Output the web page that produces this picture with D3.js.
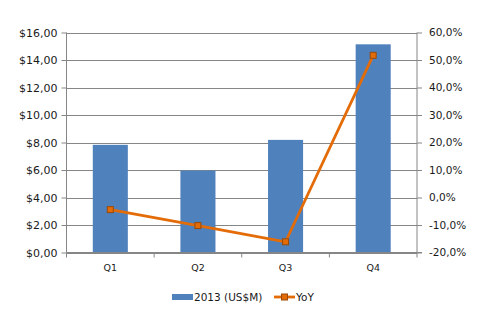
<!DOCTYPE html>
<html>
<head>
<meta charset="utf-8">
<script src="https://cdn.jsdelivr.net/npm/d3@7"></script>
<style>
  html, body { margin: 0; padding: 0; background: #fff; }
  svg text { font-family: "DejaVu Sans", Verdana, sans-serif; fill: #1a1a1a; }
</style>
</head>
<body>
<svg id="chart" width="477" height="324"></svg>
<script>
// Quarterly revenue (US$M) and year-over-year growth (%)
const quarters = ["Q1", "Q2", "Q3", "Q4"];
const revenue = [7.83, 5.96, 8.19, 15.14];
const yoy = [-4.4, -10.2, -16.1, 51.7];
const leftTicks = [0, 2, 4, 6, 8, 10, 12, 14, 16];
const rightTicks = [-20, -10, 0, 10, 20, 30, 40, 50, 60];
const seriesNames = ["2013  (US$M)", "YoY"];

const svg = d3.select("#chart");
const m = { left: 66.5, right: 417, top: 32.5, bottom: 252.5 };
const barColor = "#4F81BD", lineColor = "#E36C09", markerStroke = "#9A4A06";
const gridColor = "#868686";

const x = d3.scaleBand().domain(quarters).range([m.left, m.right]).paddingInner(0.6).paddingOuter(0.3);
const xOuter = d3.scaleBand().domain(quarters).range([m.left, m.right]);
const yL = d3.scaleLinear().domain([0, 16]).range([m.bottom, m.top]);
const yR = d3.scaleLinear().domain([-20, 60]).range([m.bottom, m.top]);

const fmtL = v => "$" + v.toFixed(2).replace(".", ",");
const fmtR = v => v.toFixed(1).replace(".", ",") + "%";

// horizontal gridlines
svg.append("g").selectAll("line").data(leftTicks).join("line")
  .attr("x1", m.left).attr("x2", m.right)
  .attr("y1", d => Math.round(yL(d)) + 0.5).attr("y2", d => Math.round(yL(d)) + 0.5)
  .attr("stroke", gridColor).attr("stroke-width", 1);

// bars
svg.append("g").selectAll("rect").data(revenue).join("rect")
  .attr("x", (d, i) => x(quarters[i]))
  .attr("width", x.bandwidth())
  .attr("y", d => yL(d))
  .attr("height", d => m.bottom - yL(d))
  .attr("fill", barColor);

// left axis
const axL = svg.append("g").attr("transform", `translate(${m.left},0)`)
  .call(d3.axisLeft(yL).tickValues(leftTicks).tickFormat(fmtL).tickSize(5).tickPadding(4));
// right axis
const axR = svg.append("g").attr("transform", `translate(${m.right},0)`)
  .call(d3.axisRight(yR).tickValues(rightTicks).tickFormat(fmtR).tickSize(5).tickPadding(7));
// bottom axis with tick marks between categories
const axB = svg.append("g").attr("transform", `translate(0,${m.bottom})`)
  .call(d3.axisBottom(xOuter).tickSize(0).tickPadding(12));
axB.append("g").selectAll("line")
  .data(quarters.map(q => xOuter(q)).concat([m.right]))
  .join("line")
  .attr("x1", d => d).attr("x2", d => d).attr("y1", 0).attr("y2", 5)
  .attr("stroke", gridColor);

[axL, axR, axB].forEach(g => {
  g.selectAll(".tick line").attr("stroke", gridColor);
  g.selectAll("text").attr("fill", "#1a1a1a")
    .style("font-family", "'DejaVu Sans', Verdana, sans-serif");
  g.select(".domain").remove();
});
axL.selectAll(".tick text").attr("font-size", 11);
axR.selectAll(".tick text").attr("font-size", 10.5);
axB.selectAll(".tick text").attr("font-size", 9.5);

svg.append("line").attr("x1", m.left).attr("x2", m.left).attr("y1", m.top).attr("y2", m.bottom).attr("stroke", gridColor);
svg.append("line").attr("x1", m.right).attr("x2", m.right).attr("y1", m.top).attr("y2", m.bottom).attr("stroke", gridColor);
svg.append("line").attr("x1", m.left).attr("x2", m.right + 5).attr("y1", m.bottom).attr("y2", m.bottom).attr("stroke", gridColor);

// YoY line with square markers
const cx = i => xOuter(quarters[i]) + xOuter.bandwidth() / 2;
const line = d3.line().x((d, i) => cx(i)).y(d => yR(d));
svg.append("path").datum(yoy).attr("d", line)
  .attr("fill", "none").attr("stroke", lineColor).attr("stroke-width", 2.8).attr("stroke-linejoin", "round");
svg.append("g").selectAll("rect").data(yoy).join("rect")
  .attr("x", (d, i) => cx(i) - 3).attr("y", d => yR(d) - 3)
  .attr("width", 6).attr("height", 6)
  .attr("fill", lineColor).attr("stroke", markerStroke).attr("stroke-width", 1);

// legend
const lg = svg.append("g").attr("transform", "translate(0,297)");
lg.append("rect").attr("x", 172).attr("y", -3).attr("width", 21).attr("height", 6).attr("fill", barColor);
lg.append("text").attr("x", 194).attr("y", 4).attr("font-size", 10.5).text(seriesNames[0]);
lg.append("line").attr("x1", 274).attr("x2", 295).attr("y1", 0).attr("y2", 0)
  .attr("stroke", lineColor).attr("stroke-width", 2.8);
lg.append("rect").attr("x", 281.5).attr("y", -3).attr("width", 6).attr("height", 6)
  .attr("fill", lineColor).attr("stroke", markerStroke);
lg.append("text").attr("x", 296).attr("y", 4).attr("font-size", 10.5).text(seriesNames[1]);
</script>
</body>
</html>
